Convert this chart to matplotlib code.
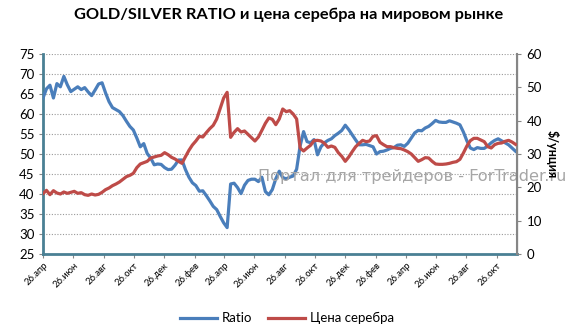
import matplotlib
matplotlib.use("agg")
import matplotlib.pyplot as plt
import matplotlib.dates as mdates
import matplotlib.ticker as mticker
import pandas as pd

# weekly observations starting 26.04.2010
start_date = "2010-04-26"

ratio = [
    64.0, 66.3, 67.2, 64.0, 67.6, 66.8, 69.4, 67.3, 65.6, 66.2,
    66.8, 66.1, 66.6, 65.5, 64.6, 66.0, 67.5, 67.8, 65.3, 63.1,
    61.6, 61.1, 60.6, 59.6, 58.2, 56.9, 56.0, 54.0, 51.8, 52.6,
    50.1, 49.0, 47.3, 47.5, 47.4, 46.6, 46.1, 46.2, 47.2, 48.5,
    48.5, 46.1, 44.2, 42.8, 42.1, 40.7, 40.8, 39.6, 38.3, 36.9,
    36.1, 34.4, 32.8, 31.6, 42.5, 42.7, 41.6, 40.1, 42.2, 43.4,
    43.7, 43.7, 43.1, 44.2, 40.6, 39.8, 41.1, 43.8, 45.7, 44.1,
    43.8, 44.2, 44.5, 46.2, 52.0, 55.6, 53.1, 52.8, 53.6, 49.8,
    51.8, 52.8, 53.4, 53.8, 54.6, 55.2, 55.9, 57.2, 56.1, 54.8,
    53.5, 52.3, 52.3, 52.4, 52.1, 51.8, 50.0, 50.6, 50.7, 51.0,
    51.4, 51.6, 52.2, 52.3, 51.9, 52.7, 54.0, 55.3, 55.9, 55.8,
    56.5, 56.9, 57.6, 58.4, 58.0, 57.9, 57.9, 58.3, 58.0, 57.7,
    57.3, 55.5, 53.3, 51.5, 51.1, 51.6, 51.4, 51.4, 52.0, 52.8,
    53.4, 53.8, 53.3, 52.8, 52.3, 51.5, 50.7,
]

silver = [
    18.1, 19.1, 17.8, 19.0, 18.3, 18.0, 18.6, 18.2, 18.5, 18.8,
    18.2, 18.4, 17.8, 17.6, 18.0, 17.7, 17.9, 18.5, 19.3, 19.8,
    20.5, 21.0, 21.6, 22.4, 23.2, 23.6, 24.2, 25.9, 27.0, 27.4,
    27.8, 28.8, 29.1, 29.4, 29.6, 30.4, 29.8, 29.0, 28.5, 27.8,
    27.2, 29.2, 31.1, 32.7, 33.9, 35.3, 35.1, 36.4, 37.6, 38.6,
    40.5, 43.6, 46.8, 48.5, 35.0, 36.5, 37.6, 36.6, 36.9, 35.9,
    34.9, 33.9, 35.1, 37.1, 39.2, 40.8, 40.4, 38.8, 40.5, 43.5,
    42.7, 43.0, 42.0, 40.5, 31.8, 30.9, 31.8, 32.6, 34.0, 34.1,
    33.9, 33.2, 32.0, 32.4, 32.0, 30.4, 29.3, 27.8, 29.1, 30.7,
    32.2, 33.2, 34.1, 33.7, 33.9, 35.3, 35.5, 33.5, 32.8, 32.2,
    32.2, 31.9, 31.7, 31.6, 31.2, 30.7, 30.0, 28.9, 27.8, 28.3,
    28.9, 28.8, 27.8, 27.0, 26.9, 26.9, 27.0, 27.2, 27.5, 27.7,
    28.4, 30.3, 32.4, 34.0, 34.7, 34.7, 34.2, 33.7, 32.2, 31.8,
    32.8, 33.2, 33.3, 33.8, 34.1, 33.6, 32.9,
]

month_names = {2: "фев", 4: "апр", 6: "июн", 8: "авг", 10: "окт", 12: "дек"}

title = "GOLD/SILVER RATIO и цена серебра на мировом рынке"
watermark = "Портал для трейдеров - ForTrader.ru"

dates = pd.date_range(start_date, periods=len(ratio), freq="7D")

plt.rcParams["font.family"] = ["Lato", "DejaVu Sans"]

blue = "#4a7ebb"
red = "#be4b48"
axis_col = "#4a8094"

fig = plt.figure(figsize=(5.74, 3.35), dpi=100)
ax = fig.add_axes([43 / 574, 1 - 254 / 335, 474 / 574, 200 / 335])
ax2 = ax.twinx()

ax.plot(dates, ratio, color=blue, lw=2.3, zorder=3, solid_joinstyle="round")
ax2.plot(dates, silver, color=red, lw=2.3, zorder=3, solid_joinstyle="round")

ax.set_ylim(25, 75)
ax.set_yticks(range(25, 80, 5))
ax2.set_ylim(0, 60)
ax2.set_yticks(range(0, 70, 10))
ax.set_xlim(pd.Timestamp(start_date), pd.Timestamp(start_date) + pd.Timedelta(days=955))

ax.yaxis.grid(True, linestyle=(0, (1, 1.5)), color="#9a9a9a", lw=0.8)
ax.set_axisbelow(True)

ax.xaxis.set_major_locator(mdates.MonthLocator(bymonth=list(month_names), bymonthday=26))
ax.xaxis.set_major_formatter(
    mticker.FuncFormatter(lambda v, p: "26." + month_names[mdates.num2date(v).month])
)
for lbl in ax.get_xticklabels():
    lbl.set_rotation(45)
    lbl.set_ha("right")
    lbl.set_rotation_mode("anchor")
    lbl.set_fontsize(6.8)

for a in (ax, ax2):
    a.spines["top"].set_visible(False)
ax.spines["left"].set_color(axis_col)
ax.spines["left"].set_linewidth(2)
ax.spines["bottom"].set_color(axis_col)
ax.spines["bottom"].set_linewidth(2)
ax2.spines["right"].set_color("#868686")
ax2.spines["right"].set_linewidth(1.5)
ax2.spines["left"].set_visible(False)
ax2.spines["bottom"].set_visible(False)

ax.tick_params(axis="y", labelsize=9.5, length=3, color="#868686", pad=3)
ax.tick_params(axis="x", length=3, color="#868686", pad=2)
ax2.tick_params(axis="y", labelsize=9.5, length=3, color="#868686", pad=4)

ax2.set_ylabel("$/унция", rotation=270, fontsize=9, fontweight="bold", labelpad=12)

fig.text(0.502, 0.955, title, ha="center", va="center", fontsize=11.8, fontweight="bold")

# watermark sits under the silver line (ax2 is drawn after ax)
ax.text(258 / 574, 1 - 176 / 335, watermark, transform=fig.transFigure, ha="left",
        va="center", fontsize=11.6, color="#a6a6a6", clip_on=False, zorder=5,
        family="DejaVu Sans")

handles = [
    plt.Line2D([], [], color=blue, lw=2.3),
    plt.Line2D([], [], color=red, lw=2.3),
]
fig.legend(handles, ["Ratio", "Цена серебра"], loc="center", bbox_to_anchor=(0.5, 0.05),
           ncol=2, frameon=False, fontsize=9.5, handlelength=2.8, columnspacing=1.2,
           handletextpad=0.4)

fig.savefig("out.png", dpi=100)
plt.close(fig)
